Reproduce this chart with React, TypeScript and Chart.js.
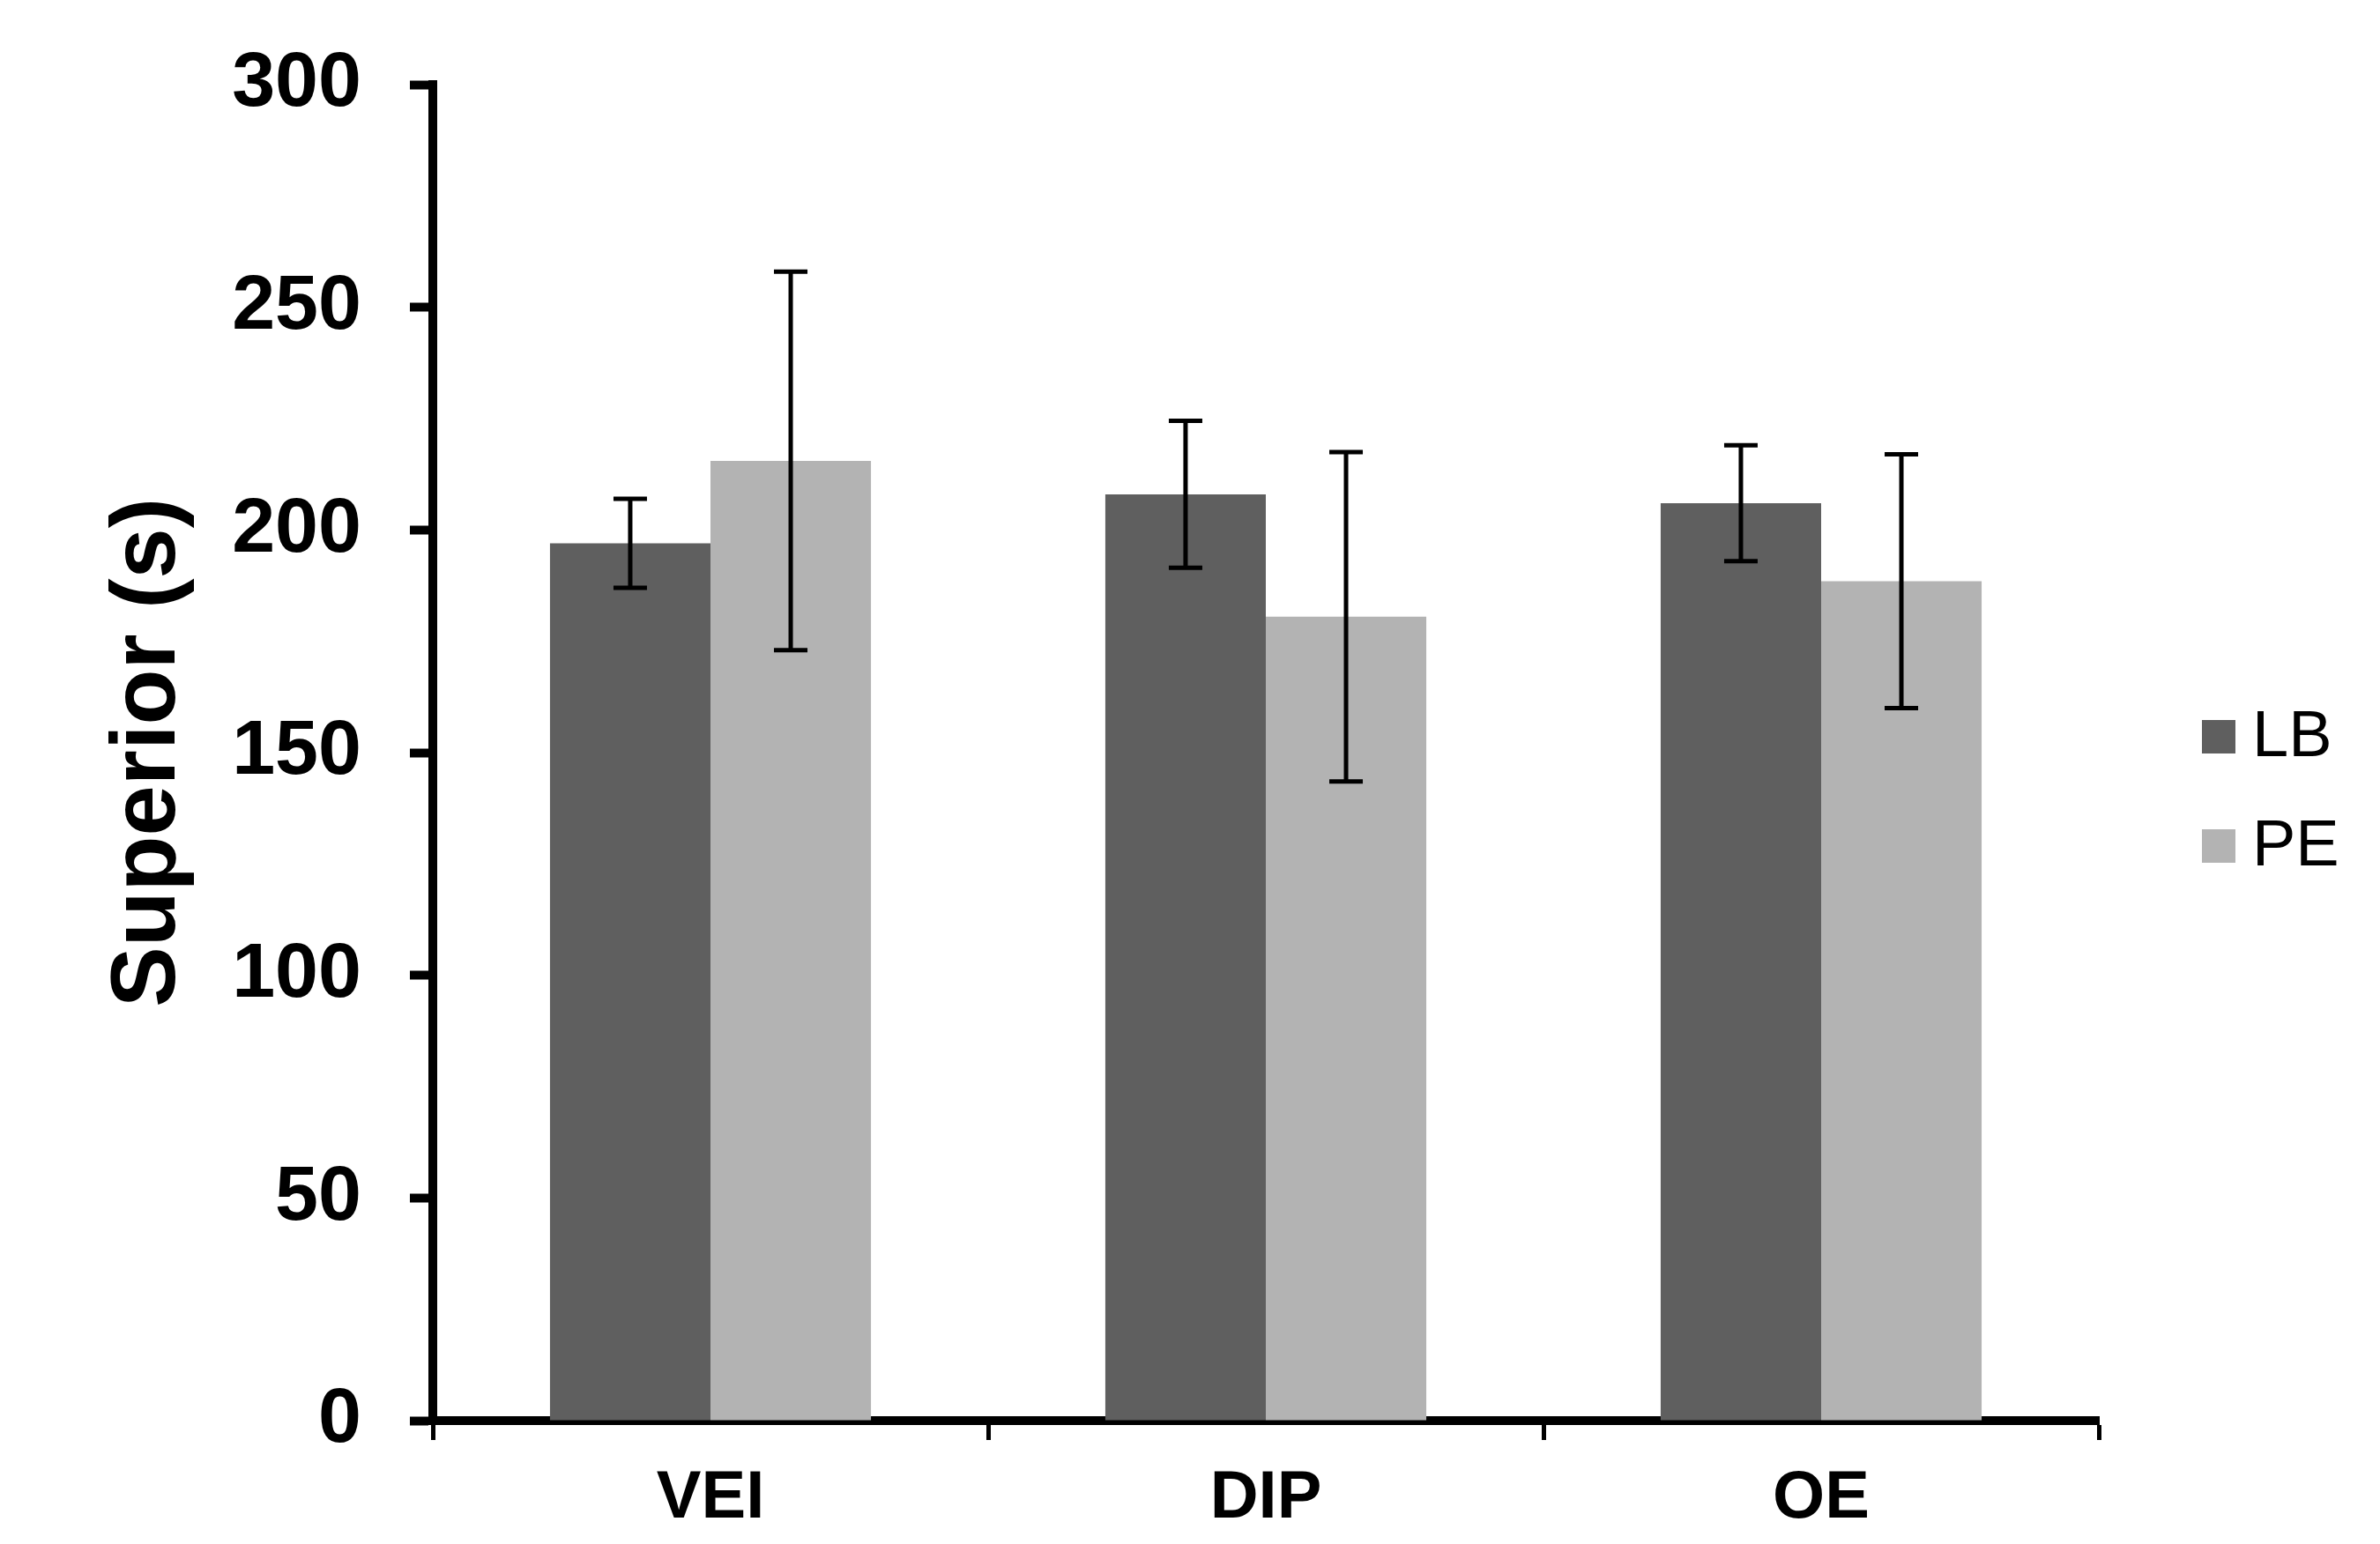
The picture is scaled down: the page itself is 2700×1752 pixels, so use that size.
import { useEffect, useRef } from "react";
import { Chart, registerables } from "chart.js";

Chart.register(...registerables);

const categories = ["VEI", "DIP", "OE"];
const seriesNames = ["LB", "PE"];
const seriesColors = ["#5f5f5f", "#b3b3b3"];
const lbValues = [197, 208, 206];
const peValues = [215.5, 180.5, 188.5];
const lbErrors = [10, 16.5, 13];
const peErrors = [42.5, 37, 28.5];
const yMin = 0;
const yMax = 300;
const yStep = 50;
const yTitle = "Superior (s)";

const FONT = "'Liberation Sans', Arial, Helvetica, sans-serif";

const errorBarPlugin = {
  id: "errorBars",
  afterDatasetsDraw(chart: any) {
    const ctx = chart.ctx;
    const y = chart.scales.y;
    chart.data.datasets.forEach((ds: any, di: number) => {
      const meta = chart.getDatasetMeta(di);
      meta.data.forEach((bar: any, i: number) => {
        const v = ds.data[i];
        const e = ds.errors[i];
        const top = y.getPixelForValue(v + e);
        const bot = y.getPixelForValue(v - e);
        const half = 19;
        ctx.save();
        ctx.strokeStyle = "#000";
        ctx.lineWidth = 5;
        ctx.beginPath();
        ctx.moveTo(bar.x, top);
        ctx.lineTo(bar.x, bot);
        ctx.moveTo(bar.x - half, top);
        ctx.lineTo(bar.x + half, top);
        ctx.moveTo(bar.x - half, bot);
        ctx.lineTo(bar.x + half, bot);
        ctx.stroke();
        ctx.restore();
      });
    });
  },
};

const legendPlugin = {
  id: "sideLegend",
  afterDraw(chart: any) {
    const ctx = chart.ctx;
    const area = chart.chartArea;
    const boxX = area.right + 117;
    const box = 38;
    const firstY = 836;
    const gap = 124;
    ctx.save();
    chart.data.datasets.forEach((ds: any, i: number) => {
      const cy = firstY + i * gap;
      ctx.fillStyle = ds.backgroundColor;
      ctx.fillRect(boxX, cy - box / 2, box, box);
      ctx.fillStyle = "#000";
      ctx.font = `74px ${FONT}`;
      ctx.textAlign = "left";
      ctx.textBaseline = "middle";
      ctx.fillText(ds.label, boxX + box + 19, cy + 2);
    });
    ctx.restore();
  },
};

export default function App() {
  const ref = useRef<HTMLCanvasElement | null>(null);

  useEffect(() => {
    if (!ref.current) return;
    const chart = new Chart(ref.current, {
      type: "bar",
      data: {
        labels: categories,
        datasets: [
          {
            label: seriesNames[0],
            data: lbValues,
            errors: lbErrors,
            backgroundColor: seriesColors[0],
            categoryPercentage: 0.578,
            barPercentage: 1.0,
          } as any,
          {
            label: seriesNames[1],
            data: peValues,
            errors: peErrors,
            backgroundColor: seriesColors[1],
            categoryPercentage: 0.578,
            barPercentage: 1.0,
          } as any,
        ],
      },
      options: {
        responsive: false,
        animation: false,
        devicePixelRatio: 1,
        layout: { padding: { top: 96, right: 319, bottom: 0, left: 0 } },
        plugins: {
          legend: { display: false },
          tooltip: { enabled: false },
        },
        scales: {
          x: {
            z: 1,
            grid: {
              offset: true,
              drawOnChartArea: false,
              drawTicks: true,
              tickLength: 22,
              tickWidth: 5,
              tickColor: "#000",
            },
            border: { display: true, color: "#000", width: 10 },
            ticks: {
              color: "#000",
              padding: 21,
              font: { family: FONT, size: 76, weight: "bold" },
            },
            afterFit(scale: any) {
              scale.height = 140;
            },
          },
          y: {
            z: 1,
            min: yMin,
            max: yMax,
            grid: {
              drawOnChartArea: false,
              drawTicks: true,
              tickLength: 26,
              tickWidth: 10,
              tickColor: "#000",
            },
            border: { display: true, color: "#000", width: 10 },
            ticks: {
              stepSize: yStep,
              color: "#000",
              padding: 55,
              font: { family: FONT, size: 88, weight: "bold" },
            },
            title: {
              display: true,
              text: yTitle,
              color: "#000",
              padding: { top: 108, bottom: 0 },
              font: { family: FONT, size: 103, weight: "bold" },
            },
            afterFit(scale: any) {
              scale.width = 491;
              scale.paddingTop = 0;
              scale.paddingBottom = 0;
            },
          },
        },
      } as any,
      plugins: [errorBarPlugin, legendPlugin],
    });
    return () => chart.destroy();
  }, []);

  return (
    <div style={{ position: "absolute", left: 0, top: 0, width: 2700, height: 1752, background: "#fff" }}>
      <canvas ref={ref} width={2700} height={1752} style={{ display: "block" }} />
    </div>
  );
}
